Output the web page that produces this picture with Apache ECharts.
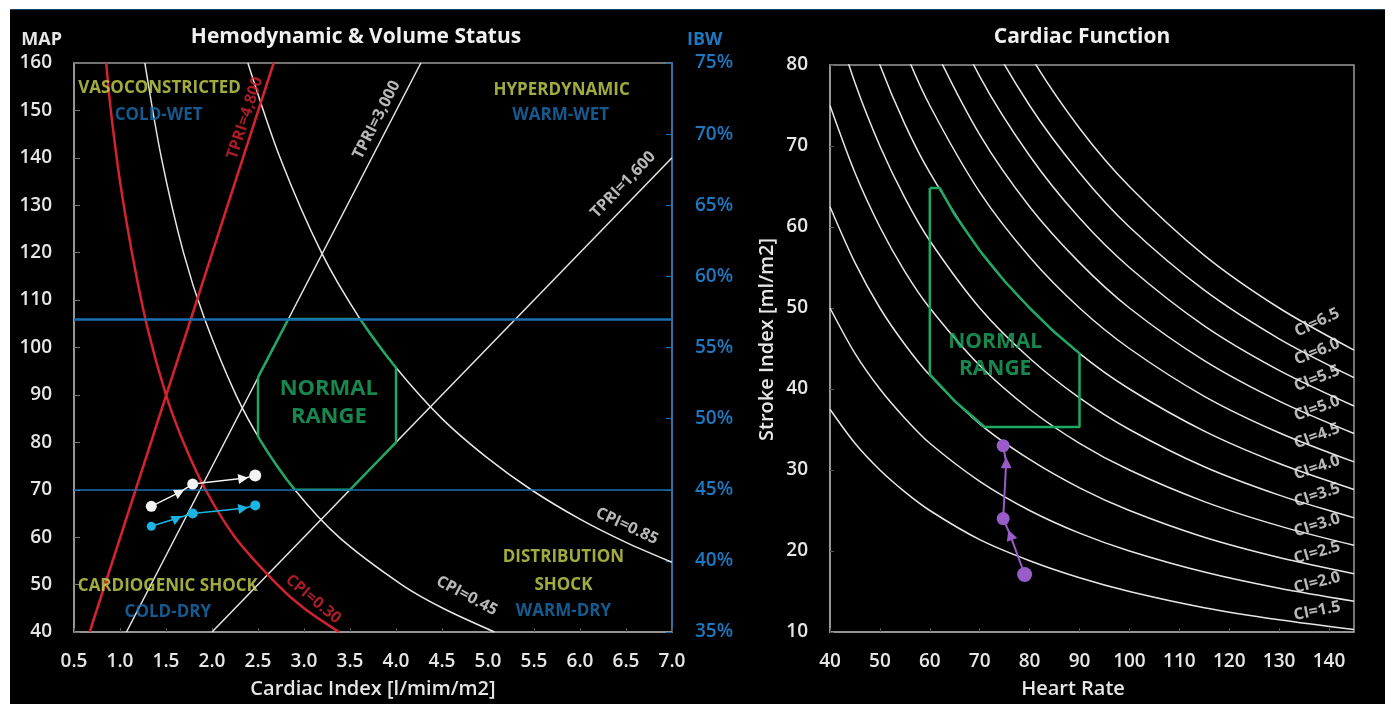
<!DOCTYPE html>
<html>
<head>
<meta charset="utf-8">
<title>Hemodynamic & Volume Status / Cardiac Function</title>
<script src="https://cdn.jsdelivr.net/npm/echarts@6/dist/echarts.min.js"></script>
<style>
html, body { margin: 0; padding: 0; background: #fff; }
#main { position: absolute; left: 10px; top: 9px; width: 1375px; height: 695px;
        background: #000; border-top: 1px solid #23466b; box-sizing: border-box; }
</style>
</head>
<body>
<div id="main"></div>
<script>
// ---- left chart: cardiac index (x) vs MAP (y) ----
var tpri4800 = [[0.67, 40], [2.67, 160]];
var tpri3000 = [[1.07, 40], [4.27, 160]];
var tpri1600 = [[2.0, 40], [7.0, 140]];
var cpi030 = [[0.85, 160], [0.9, 150], [1.0, 135], [1.13, 120], [1.3, 104], [1.5, 90], [1.69, 80],
              [1.93, 70], [2.25, 60], [2.71, 50], [3.0, 45], [3.38, 40]];
var cpi045 = [[1.27, 160], [1.45, 140], [1.69, 120], [1.92, 106], [2.26, 90], [2.54, 80], [2.9, 70],
              [3.38, 60], [4.06, 50], [4.51, 45], [5.07, 40]];
var cpi085 = [[2.39, 160], [2.74, 140], [3.19, 120], [3.61, 106], [3.99, 96], [4.5, 85], [5.0, 76.6],
              [5.47, 70], [6.0, 63.8], [6.5, 58.9], [7.0, 54.7]];
var mapLimits = [106, 70];
var normalCI  = [2.5, 2.83, 3.61, 3.7, 3.8, 3.9, 4.0, 4.0, 3.5, 2.9, 2.8, 2.7, 2.6, 2.5, 2.5];
var normalMAP = [93.75, 106, 106, 103.5, 100.8, 98.2, 95.75, 80, 70, 70, 72.5, 75.2, 78.1, 81.2, 93.75];
var patWhiteCI  = [1.34, 1.65, 1.79, 2.34, 2.47];
var patWhiteMAP = [66.5, 69.5, 71.2, 72.4, 73.0];
var patBlueCI   = [1.34, 1.62, 1.79, 2.34, 2.47];
var patBlueMAP  = [62.3, 64.0, 65.0, 66.1, 66.7];
var patMarks    = ['circle', 'triangle', 'circle', 'triangle', 'circle'];

// ---- right chart: heart rate (x) vs stroke index (y) ----
var hrGrid = [40, 45, 50, 55, 60, 70, 80, 90, 100, 115, 130, 145];
var ciLevels = ['1.5', '2.0', '2.5', '3.0', '3.5', '4.0', '4.5', '5.0', '5.5', '6.0', '6.5'];
var strokeCurves = [
  [37.5, 33.3, 30, 27.3, 25, 21.4, 18.8, 16.7, 15, 13, 11.5, 10.3],
  [50, 44.4, 40, 36.4, 33.3, 28.6, 25, 22.2, 20, 17.4, 15.4, 13.8],
  [62.5, 55.6, 50, 45.5, 41.7, 35.7, 31.3, 27.8, 25, 21.7, 19.2, 17.2],
  [75, 66.7, 60, 54.5, 50, 42.9, 37.5, 33.3, 30, 26.1, 23.1, 20.7],
  [87.5, 77.8, 70, 63.6, 58.3, 50, 43.8, 38.9, 35, 30.4, 26.9, 24.1],
  [100, 88.9, 80, 72.7, 66.7, 57.1, 50, 44.4, 40, 34.8, 30.8, 27.6],
  [112.5, 100, 90, 81.8, 75, 64.3, 56.3, 50, 45, 39.1, 34.6, 31],
  [125, 111, 100, 90.9, 83.3, 71.4, 62.5, 55.6, 50, 43.5, 38.5, 34.5],
  [137.5, 122, 110, 100, 91.7, 78.6, 68.8, 61.1, 55, 47.8, 42.3, 37.9],
  [150, 133, 120, 109, 100, 85.7, 75, 66.7, 60, 52.2, 46.2, 41.4],
  [162.5, 144, 130, 118, 108, 92.9, 81.3, 72.2, 65, 56.5, 50, 44.8]
];
var ciLabelHR = 137.6;
var ciLabelSI = [12.6, 16.1, 19.8, 23.2, 26.9, 30.3, 34.2, 37.6, 41.3, 44.6, 48.2];
var rangeHR = [60, 62, 65, 70, 75, 80, 85, 90, 90, 71, 65, 60, 60];
var rangeSI = [64.8, 64.8, 61.5, 57.1, 53.3, 50, 47, 44.4, 35.3, 35.3, 38.5, 41.8, 64.8];
var patHR = [79.0, 76.1, 74.7, 75.3, 74.7];
var patSI = [17.1, 22.0, 24.0, 30.9, 33.0];

var FONT = '"Open Sans", "Noto Sans", sans-serif';
var WHITE = '#e6e6e6', RED = '#d42330', GREEN = '#1fa862', BLUE = '#1b6fb3', YEL = '#c9d650';

function zip(xs, ys) {
	return xs.map(function(x, i) { return [x, ys[i]]; });
}

function curve(name, data, color, width, xi, yi) {
	return {
		name: name, type: 'line', xAxisIndex: xi, yAxisIndex: yi, data: data,
		smooth: 0.3, showSymbol: false, silent: true, z: 2,
		lineStyle: { color: color, width: width }
	};
}

function textSeries(name, xi, yi, pts, texts, color, size, rots) {
	return {
		name: name, type: 'scatter', xAxisIndex: xi, yAxisIndex: yi, silent: true, z: 10,
		symbolSize: 1, itemStyle: { color: 'rgba(0,0,0,0)' },
		data: pts.map(function(p, i) {
			return { value: p, label: { formatter: texts[i], rotate: rots ? rots[i] : 0 } };
		}),
		label: { show: true, position: 'inside', color: color, fontSize: size, fontWeight: 'bold', fontFamily: FONT }
	};
}

function patient(name, xs, ys, color, width, sizes, rots, xi, yi) {
	return {
		name: name, type: 'line', xAxisIndex: xi, yAxisIndex: yi, silent: true, z: 8,
		lineStyle: { color: color, width: width }, itemStyle: { color: color },
		data: xs.map(function(x, i) {
			return { value: [x, ys[i]], symbol: patMarks[i], symbolSize: sizes[i], symbolRotate: rots[i] };
		})
	};
}

var axisText = { color: WHITE, fontSize: 19, fontWeight: 600, fontFamily: FONT };
var nameText = { color: WHITE, fontSize: 20, fontWeight: 600, fontFamily: FONT };

var series = [
	curve('TPRI=3,000', tpri3000, WHITE, 1.5, 0, 0),
	curve('TPRI=1,600', tpri1600, WHITE, 1.5, 0, 0),
	curve('CPI=0.45', cpi045, WHITE, 1.5, 0, 0),
	curve('CPI=0.85', cpi085, WHITE, 1.5, 0, 0),
	curve('TPRI=4,800', tpri4800, RED, 2.5, 0, 0),
	curve('CPI=0.30', cpi030, RED, 2.5, 0, 0),
	{
		name: 'normal', type: 'line', xAxisIndex: 0, yAxisIndex: 0, data: zip(normalCI, normalMAP),
		showSymbol: false, silent: true, z: 3, lineStyle: { color: GREEN, width: 2.5 }
	},
	{
		name: 'limits', type: 'line', xAxisIndex: 0, yAxisIndex: 0, data: [], z: 5, silent: true,
		markLine: {
			silent: true, symbol: 'none', label: { show: false }, animation: false,
			data: mapLimits.map(function(v, i) {
				return { yAxis: v, lineStyle: { color: BLUE, width: i === 0 ? 2.5 : 1.5, type: 'solid' } };
			})
		}
	},
	patient('white', patWhiteCI, patWhiteMAP, '#f2f2f2', 1.5, [11, 10, 11, 10, 12], [0, -62, 0, -82, 0], 0, 0),
	patient('blue', patBlueCI, patBlueMAP, '#1cb4e4', 1.5, [9, 10, 10, 10, 10], [0, -64, 0, -82, 0], 0, 0),
	textSeries('curveLabels', 0, 0,
		[[3.79, 148], [6.47, 134.3], [6.51, 62.3], [4.77, 47.6]],
		['TPRI=3,000', 'TPRI=1,600', 'CPI=0.85', 'CPI=0.45'], WHITE, 16, [63, 46, -25, -28]),
	textSeries('redLabels', 0, 0, [[2.36, 148.4], [3.1, 46.9]], ['TPRI=4,800', 'CPI=0.30'], RED, 16, [72, -40]),
	textSeries('zones', 0, 0,
		[[1.43, 154.7], [5.8, 154.3], [1.52, 49.7], [5.82, 55.8], [5.82, 49.9]],
		['VASOCONSTRICTED', 'HYPERDYNAMIC', 'CARDIOGENIC SHOCK', 'DISTRIBUTION', 'SHOCK'], YEL, 17),
	textSeries('zonesSub', 0, 0,
		[[1.42, 149], [5.79, 149], [1.52, 44.2], [5.82, 44.4]],
		['COLD-WET', 'WARM-WET', 'COLD-DRY', 'WARM-DRY'], BLUE, 17),
	textSeries('normalText', 0, 0, [[3.27, 91.2], [3.27, 85.3]], ['NORMAL', 'RANGE'], GREEN, 22)
];

// right chart
for (var i = 0; i < ciLevels.length; i++) {
	series.push(curve('CI=' + ciLevels[i], zip(hrGrid, strokeCurves[i]), WHITE, 1.5, 1, 2));
}
series.push({
	name: 'normalCF', type: 'line', xAxisIndex: 1, yAxisIndex: 2, data: zip(rangeHR, rangeSI),
	showSymbol: false, silent: true, z: 3, lineStyle: { color: GREEN, width: 2.5 }
});
series.push(patient('purple', patHR, patSI, '#9a5cc8', 2, [15, 11, 13, 11, 13], [0, 20, 0, 0, 0], 1, 2));
series.push(textSeries('ciLabels', 1, 2,
	ciLabelSI.map(function(s) { return [ciLabelHR, s]; }),
	ciLevels.map(function(c) { return 'CI=' + c; }), WHITE, 16,
	[11, 14, 16, 17, 18, 19, 20, 20, 21, 22, 25]));
series.push(textSeries('normalText2', 1, 2, [[73.1, 45.8], [73.1, 42.5]], ['NORMAL', 'RANGE'], GREEN, 21));

var myChart = echarts.init(document.getElementById('main'));
var option = {
	backgroundColor: '#000',
	animation: false,
	title: [
		{ text: 'Hemodynamic & Volume Status', left: 341, top: 12, textAlign: 'center',
		  textStyle: { color: '#f0f0f0', fontSize: 21, fontWeight: 'bold', fontFamily: FONT } },
		{ text: 'Cardiac Function', left: 1067, top: 12, textAlign: 'center',
		  textStyle: { color: '#f0f0f0', fontSize: 21, fontWeight: 'bold', fontFamily: FONT } }
	],
	grid: [
		{ left: 64, top: 53, width: 598, height: 570, show: true, borderColor: '#9a9a9a', borderWidth: 1.5 },
		{ left: 820, top: 55, width: 524, height: 573, show: true, borderColor: '#9a9a9a', borderWidth: 1.5 }
	],
	xAxis: [
		{
			gridIndex: 0, type: 'value', min: 0.5, max: 7, interval: 0.5,
			axisLine: { lineStyle: { color: '#a0a0a0', width: 1.5 } },
			axisTick: { inside: true, length: 4, lineStyle: { color: '#555' } },
			splitLine: { show: false },
			axisLabel: Object.assign({ margin: 20, formatter: function(v) { return v.toFixed(1); } }, axisText),
			name: 'Cardiac Index [l/mim/m2]', nameLocation: 'middle', nameGap: 47,
			nameTextStyle: nameText
		},
		{
			gridIndex: 1, type: 'value', min: 40, max: 145, interval: 10,
			axisLine: { lineStyle: { color: '#a0a0a0', width: 1.5 } },
			axisTick: { inside: true, length: 4, lineStyle: { color: '#555' } },
			splitLine: { show: false },
			axisLabel: Object.assign({ margin: 20, showMaxLabel: false }, axisText),
			name: 'Heart Rate', nameLocation: 'middle', nameGap: 47,
			nameTextStyle: Object.assign({ padding: [0, 38, 0, 0] }, nameText)
		}
	],
	yAxis: [
		{
			gridIndex: 0, type: 'value', min: 40, max: 160, interval: 10,
			axisLine: { show: true, lineStyle: { color: '#a0a0a0', width: 1.5 } },
			axisTick: { show: true, inside: true, length: 6, lineStyle: { color: '#777' } },
			splitLine: { show: false },
			axisLabel: Object.assign({ margin: 22 }, axisText),
			name: 'MAP', nameLocation: 'end', nameGap: 14,
			nameTextStyle: { color: WHITE, fontSize: 18, fontWeight: 'bold', fontFamily: FONT, align: 'right', padding: [0, 12, 0, 0] }
		},
		{
			gridIndex: 0, type: 'value', position: 'right', min: 35, max: 75, interval: 5,
			axisLine: { show: true, lineStyle: { color: BLUE, width: 1.5 } },
			axisTick: { show: true, inside: true, length: 6, lineStyle: { color: BLUE } },
			splitLine: { show: false },
			axisLabel: { margin: 23, color: '#1f78c0', fontSize: 19, fontWeight: 600, fontFamily: FONT, formatter: '{value}%' },
			name: 'IBW', nameLocation: 'end', nameGap: 14,
			nameTextStyle: { color: '#1f78c0', fontSize: 18, fontWeight: 'bold', fontFamily: FONT, align: 'left', padding: [0, 0, 0, 15] }
		},
		{
			gridIndex: 1, type: 'value', min: 10, max: 80, interval: 10,
			axisLine: { show: true, lineStyle: { color: '#a0a0a0', width: 1.5 } },
			axisTick: { show: true, inside: true, length: 4, lineStyle: { color: '#555' } },
			splitLine: { show: false },
			axisLabel: Object.assign({ margin: 22 }, axisText),
			name: 'Stroke Index [ml/m2]', nameLocation: 'middle', nameGap: 53,
			nameTextStyle: Object.assign({ padding: [0, 0, 0, 18] }, nameText)
		}
	],
	series: series
};
myChart.setOption(option);
</script>
</body>
</html>
